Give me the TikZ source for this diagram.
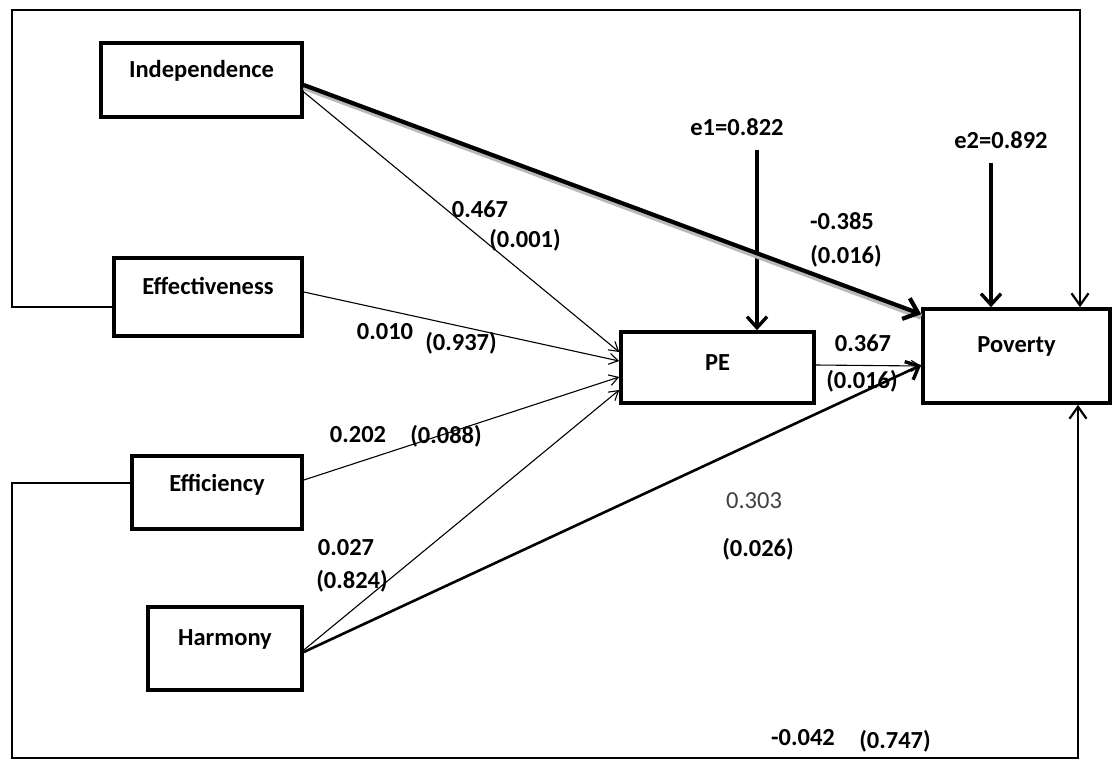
\documentclass[tikz,border=0pt]{standalone}
\usepackage{fontspec}
\setmainfont{Carlito}
\usetikzlibrary{arrows.meta,calc}
\begin{document}
\begin{tikzpicture}[x=1pt,y=-1pt,
  box/.style={draw,line width=3.6pt,rectangle,inner sep=0pt},
  blab/.style={font=\fontsize{24.5}{28}\selectfont\bfseries},
  num/.style={font=\fontsize{24.5}{28}\selectfont\bfseries,inner sep=0pt},
  thinarr/.style={line width=1.1pt,-{Straight Barb[length=9pt,width=11pt,line width=1.1pt]}},
  thickarr/.style={line width=3.4pt,-{Straight Barb[length=11pt,width=20pt,line width=3.4pt]}},
  bigarr/.style={line width=4.2pt,-{Straight Barb[length=13pt,width=22pt,line width=4.2pt]}},
  looparr/.style={line width=2.2pt,-{Straight Barb[length=12pt,width=17pt,line width=2.2pt]}}
]
\useasboundingbox[fill=white] (0,0) rectangle (1112,761);

% boxes
\node[box,minimum width=201pt,minimum height=74pt,
  label={[blab,anchor=center,yshift=-30pt]north:Independence}] (ind) at (201.5,80) {};
\node[box,minimum width=188pt,minimum height=78pt,
  label={[blab,anchor=center,yshift=-30pt]north:Effectiveness}] (eff) at (208,297) {};
\node[box,minimum width=170pt,minimum height=73pt,
  label={[blab,anchor=center,yshift=-31pt]north:Efficiency}] (effi) at (217,492.5) {};
\node[box,minimum width=154pt,minimum height=83pt,
  label={[blab,anchor=center,yshift=-34pt]north:Harmony}] (har) at (225,648.5) {};
\node[box,minimum width=193pt,minimum height=71pt,
  label={[blab,anchor=center,yshift=-32pt]north:PE}] (pe) at (717.5,367.5) {};
\node[box,minimum width=187pt,minimum height=94pt,
  label={[blab,anchor=center,yshift=-39pt]north:Poverty}] (pov) at (1016.5,356) {};

% error terms
\node[num] (e1) at (737,127) {e1=0.822};
\node[num] (e2) at (1001,140) {e2=0.892};
\coordinate (e1s) at (757,150);
\coordinate (e2s) at (991,163);
\draw[thickarr] (e1s) -- (e1s |- pe.north);
\draw[thickarr] (e2s) -- (e2s |- pov.north);

% loops
\coordinate (tl) at (12,10);
\coordinate (bl) at (12,758);
\draw[looparr,line join=miter] ([yshift=-10pt]eff.west) -| (tl) -| ([xshift=63.5pt]pov.north);
\draw[looparr,line join=miter] ([yshift=9.5pt]effi.west) -| (bl) -| ([xshift=61.5pt]pov.south);

% paths to PE
\draw[thinarr] ([yshift=-12pt]ind.east) -- ([yshift=15.5pt]pe.west);
\draw[thinarr] ([yshift=5pt]eff.east) -- ([yshift=6.5pt]pe.west);
\draw[thinarr] ([yshift=12.5pt]effi.east) -- ([yshift=-9.5pt]pe.west);
\draw[thinarr] ([yshift=-1.5pt]har.east) -- ([yshift=-22.5pt]pe.west);

% paths to Poverty
\draw[gray!55,line width=6pt] ([yshift=-7pt]ind.east) -- ([yshift=-9.5pt]pov.north west);
\draw[bigarr] ([yshift=-5pt]ind.east) -- ([yshift=-7pt]pov.north west);
\draw[thickarr,line width=2.6pt] ([yshift=-3.5pt]har.east) -- ([yshift=-9pt]pov.west);
\draw[thinarr] ([yshift=2.5pt]pe.east) -- ([yshift=-10pt]pov.west);

% coefficients
\node[num] (a1) at (480,209) {0.467};
\node[num] (a2) at (525,240) {(0.001)};
\node[num] (b1) at (842,221) {-0.385};
\node[num] (b2) at (846,256) {(0.016)};
\node[num] (c1) at (385,332) {0.010};
\node[num] (c2) at (461,343) {(0.937)};
\node[num] (d1) at (863,343) {0.367};
\node[num] (d2) at (862,381) {(0.016)};
\node[num] (f1) at (358,435) {0.202};
\node[num] (f2) at (446,436) {(0.088)};
\node[num] (g1) at (346,548) {0.027};
\node[num] (g2) at (352,581) {(0.824)};
\node[font=\fontsize{24.5}{28}\selectfont,text=black!75,inner sep=0pt] (h1) at (754,501) {0.303};
\node[num] (h2) at (758,549) {(0.026)};
\node[num] (k1) at (803,738) {-0.042};
\node[num] (k2) at (895,741) {(0.747)};
\end{tikzpicture}
\end{document}
